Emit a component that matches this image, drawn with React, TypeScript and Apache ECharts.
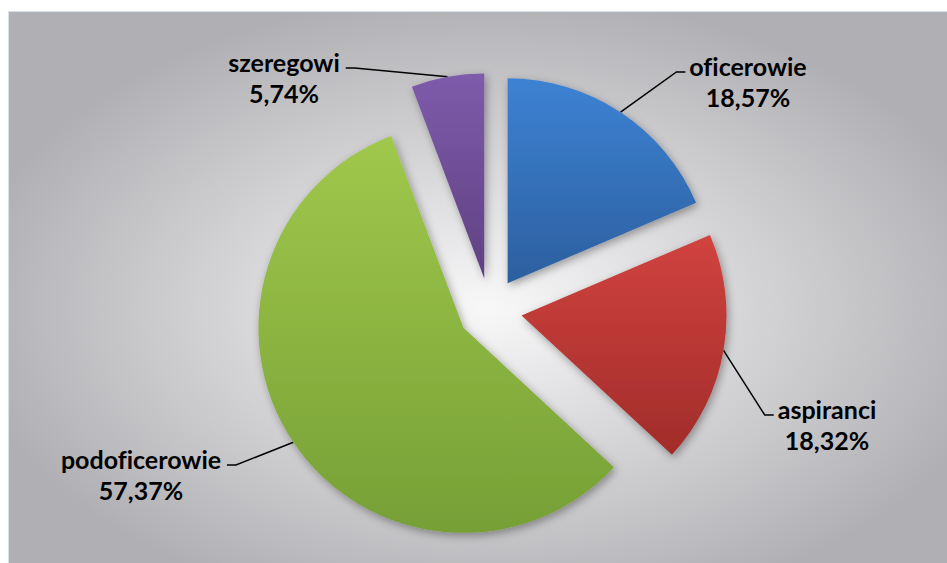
import React, { useEffect, useRef } from 'react';
import * as echarts from 'echarts';

const categories = ['oficerowie', 'aspiranci', 'podoficerowie', 'szeregowi'];
const values = [18.57, 18.32, 57.37, 5.74];
const colorsTop = ['#3d82d3', '#d1433f', '#a0c84c', '#7e5bab'];
const colorsBottom = ['#2c5f9f', '#a12c2a', '#76a036', '#5f4181'];
// label block centres (layout only)
const labelCenters = [[748, 81], [827, 424], [141, 474], [284, 77]];

const CX = 490;
const CY = 310;
const R = 205;
const EXPLODE = 32;

export default function App() {
  const ref = useRef<HTMLDivElement>(null);
  useEffect(() => {
    if (!ref.current) return;
    const chart = echarts.init(ref.current, null, { renderer: 'svg' });
    const total = values.reduce((a, b) => a + b, 0);
    let cum = 0;
    const series = categories.map((_, k) => {
      const start = cum;
      cum += values[k];
      const mid = ((start + values[k] / 2) / total) * Math.PI * 2;
      const center = [CX + EXPLODE * Math.sin(mid), CY - EXPLODE * Math.cos(mid)];
      const right = Math.sin(mid) > 0;
      return {
        type: 'pie',
        center,
        radius: R,
        startAngle: 90,
        clockwise: true,
        silent: true,
        emphasis: { disabled: true },
        label: { show: false },
        labelLine: { show: false },
        data: categories.map((name, i) =>
          i === k
            ? {
                name,
                value: values[i],
                itemStyle: {
                  color: new echarts.graphic.LinearGradient(0, 0, 0, 1, [
                    { offset: 0, color: colorsTop[i] },
                    { offset: 1, color: colorsBottom[i] },
                  ]),
                  shadowBlur: 8,
                  shadowColor: 'rgba(0,0,0,0.35)',
                  shadowOffsetX: 2,
                  shadowOffsetY: 3,
                },
                label: {
                  show: true,
                  position: 'outside',
                  formatter: (p: any) => `${p.name}\n${p.value.toFixed(2).replace('.', ',')}%`,
                  fontFamily: 'Lato',
                  fontWeight: 'bold',
                  fontSize: 25,
                  lineHeight: 31,
                  color: '#000',
                  align: 'center',
                },
                labelLine: {
                  show: true,
                  length: 20,
                  length2: 10,
                  lineStyle: { color: '#000', width: 1.5 },
                },
              }
            : {
                name,
                value: values[i],
                itemStyle: { color: 'rgba(0,0,0,0)', borderWidth: 0 },
                label: { show: false },
                labelLine: { show: false },
              }
        ),
        labelLayout: (params: any) => {
          if (params.dataIndex !== k) return {};
          const c = labelCenters[k];
          const w = params.labelRect.width;
          const hy = c[1] - 9;
          const endX = right ? c[0] - w / 2 - 4 : c[0] + w / 2 + 6;
          const bendX = right ? endX - 9 : endX + 9;
          const p0 = params.labelLinePoints ? params.labelLinePoints[0] : [bendX, hy];
          return {
            x: c[0],
            y: c[1],
            align: 'center',
            verticalAlign: 'middle',
            labelLinePoints: [p0, [bendX, hy], [endX, hy]],
          };
        },
      };
    });
    chart.setOption({
      animation: false,
      graphic: [
        {
          type: 'rect',
          z: -10,
          silent: true,
          shape: { x: 8.5, y: 11.5, width: 960, height: 570 },
          style: {
            fill: new echarts.graphic.RadialGradient(0.5, 0.52, 0.55, [
              { offset: 0, color: '#f8f8f9' },
              { offset: 1, color: '#b0b0b4' },
            ]),
            stroke: '#d6e0ef',
            lineWidth: 1,
          },
        },
      ],
      series,
    });
    return () => chart.dispose();
  }, []);
  return (
    <>
      <style>{'text { font-variant-ligatures: none; }'}</style>
      <div
        ref={ref}
        style={{ position: 'absolute', left: 0, top: 0, width: 947, height: 563 }}
      />
    </>
  );
}
